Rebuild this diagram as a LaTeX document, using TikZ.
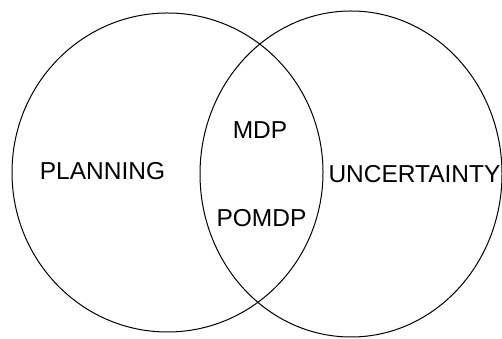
\documentclass[tikz,border=0pt]{standalone}
\usepackage{fontspec}
\setmainfont{Liberation Sans}
\usepackage{tikz}

\tikzset{setname/.style = {inner sep = 0pt, font = \fontsize{24.5}{29}\selectfont}}

\begin{document}
\begin{tikzpicture}[x = 1pt, y = 1pt, line width = 1pt]
\useasboundingbox (0,0) rectangle (502,339);

\draw (167.5,166.5) ellipse (155.5 and 159.5);
\draw (351,165) ellipse (151 and 163);

\node[setname] (planning) at (102.5,168.3) {PLANNING};
\node[setname] (uncertainty) at (414.5,164.5) {UNCERTAINTY};
\node[setname] (mdp) at (260,209) {MDP};
\node[setname] (pomdp) at (261.5,121) {POMDP};
\end{tikzpicture}
\end{document}
